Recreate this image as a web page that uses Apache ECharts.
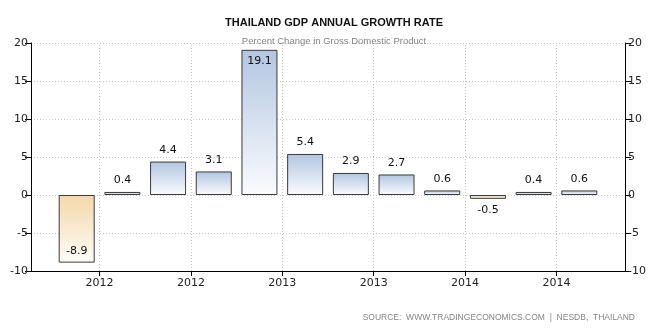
<!DOCTYPE html>
<html>
<head>
<meta charset="utf-8">
<script src="https://cdn.jsdelivr.net/npm/echarts@6/dist/echarts.min.js"></script>
<style>
  html, body { margin: 0; padding: 0; background: #fff; }
  #chart { width: 668px; height: 333px; }
</style>
</head>
<body>
<div id="chart"></div>
<script>
// Quarterly GDP growth, year-on-year (%)
const growth = [-8.9, 0.4, 4.4, 3.1, 19.1, 5.4, 2.9, 2.7, 0.6, -0.5, 0.4, 0.6];
// Year labels shown between pairs of quarters
const yearLabels = ['2012', '2012', '2013', '2013', '2014', '2014'];
const yearTickPositions = [1.5, 3.5, 5.5, 7.5, 9.5, 11.5];

const font = '"DejaVu Sans", Verdana, sans-serif';
const headFont = '"Liberation Sans", Arial, sans-serif';

function barFill(v) {
  if (v >= 0) {
    return new echarts.graphic.LinearGradient(0, 0, 0, 1, [
      { offset: 0, color: '#b2c5e0' },
      { offset: 1, color: '#fbfcfe' }
    ]);
  }
  return new echarts.graphic.LinearGradient(0, 0, 0, 1, [
    { offset: 0, color: '#f3d8aa' },
    { offset: 1, color: '#fefcf8' }
  ]);
}

function labelPos(v) {
  if (v > 17) return 'insideTop';
  if (v < -5) return 'insideBottom';
  if (v < 0) return 'bottom';
  return 'top';
}

const barData = growth.map((v, i) => ({
  value: [i + 1, v],
  itemStyle: { color: barFill(v) },
  label: { position: labelPos(v), distance: 6 }
}));

const chart = echarts.init(document.getElementById('chart'), null, { renderer: 'canvas' });

const yAxisCommon = {
  type: 'value',
  min: -10,
  max: 20,
  interval: 5,
  axisLine: { show: true, lineStyle: { color: '#000', width: 1 } },
  axisTick: { show: true, length: 6, lineStyle: { color: '#000' } },
  axisLabel: { color: '#222', fontFamily: font, fontSize: 11, margin: 3 },
};

chart.setOption({
  animation: false,
  backgroundColor: '#fff',
  title: [
    {
      text: 'THAILAND GDP ANNUAL GROWTH RATE',
      left: 'center',
      top: 12,
      textStyle: { fontFamily: headFont, fontSize: 11, fontWeight: 'bold', color: '#111' }
    },
    {
      text: 'Percent Change in Gross Domestic Product',
      left: 'center',
      top: 31,
      textStyle: { fontFamily: headFont, fontSize: 9.5, fontWeight: 'normal', color: '#858585' }
    },
    {
      text: 'SOURCE:  WWW.TRADINGECONOMICS.COM  |  NESDB,  THAILAND',
      right: 28,
      top: 308,
      textStyle: { fontFamily: headFont, fontSize: 8.5, fontWeight: 'normal', color: '#858585' }
    }
  ],
  grid: { left: 31, right: 43, top: 43, bottom: 62, containLabel: false },
  xAxis: {
    type: 'value',
    min: 0,
    max: 13,
    axisLine: { show: true, onZero: false, lineStyle: { color: '#000', width: 1 } },
    axisTick: { show: true, length: 5, customValues: yearTickPositions, lineStyle: { color: '#000' } },
    axisLabel: {
      show: true,
      customValues: yearTickPositions,
      color: '#222',
      fontFamily: font,
      fontSize: 11,
      margin: 7,
      formatter: (val) => yearLabels[yearTickPositions.indexOf(val)] || ''
    },
    splitLine: { show: false }
  },
  yAxis: [
    Object.assign({}, yAxisCommon, {
      position: 'left',
      splitLine: { show: true, lineStyle: { color: '#c8c8c8', type: [1, 2], width: 1 } }
    }),
    Object.assign({}, yAxisCommon, {
      position: 'right',
      splitLine: { show: false }
    })
  ],
  series: [
    {
      type: 'bar',
      yAxisIndex: 0,
      barWidth: 36,
      data: barData,
      itemStyle: { borderColor: '#3a3a3a', borderWidth: 1 },
      label: {
        show: true,
        color: '#111',
        fontFamily: font,
        fontSize: 11,
        formatter: (p) => p.value[1].toFixed(1)
      },
      markLine: {
        silent: true,
        symbol: 'none',
        label: { show: false },
        lineStyle: { color: '#c8c8c8', type: [1, 2], width: 1 },
        data: yearTickPositions.map(x => ({ xAxis: x }))
      },
      z: 3
    }
  ]
});
</script>
</body>
</html>
